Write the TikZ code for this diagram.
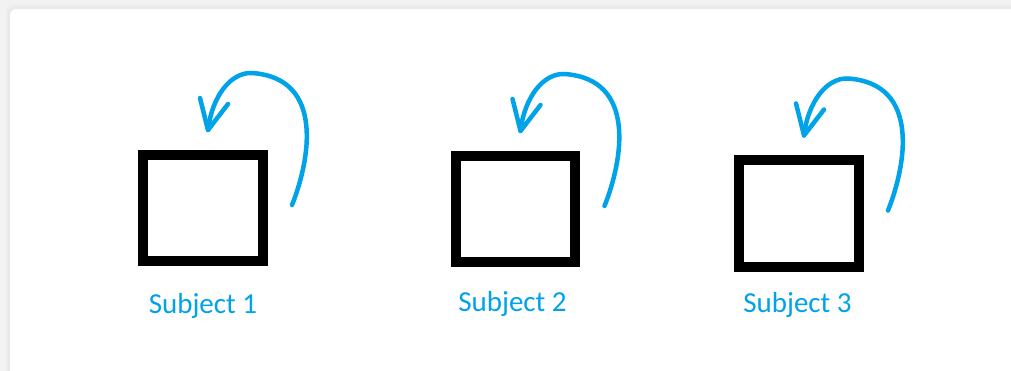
\documentclass[tikz,border=0pt]{standalone}
\usepackage{fontspec}
\setmainfont{Carlito}
\definecolor{paintblue}{RGB}{0,162,232}
\tikzset{
  subjbox/.style={draw=black, line width=10pt, minimum width=120pt, minimum height=106pt, inner sep=0pt, fill=white},
  loopline/.style={draw=paintblue, line width=4.5pt, line cap=round, line join=round},
  subjlabel/.style={text=paintblue, font=\fontsize{29}{34}\selectfont, anchor=base, inner sep=0pt},
  selfloop/.pic={
    \coordinate (-tail) at (89,-3);
    \coordinate (-tip) at (5,-78);
    \coordinate (-top) at (49,-135);
    \coordinate (-b1) at (-3,-110);
    \coordinate (-b2) at (25,-104);
    \draw[loopline] (-tail) .. controls (107,-48) and (122,-130) .. (-top)
      .. controls (28,-136) and (9,-112) .. (-tip);
    \draw[loopline] (-b1) -- (-tip) -- (-b2);
  }
}
\begin{document}
\begin{tikzpicture}[x=1pt,y=-1pt]
\useasboundingbox (0,0) rectangle (1011,371);
% background and card
\fill[black!5] (0,0) rectangle (1011,371);
\fill[black!7, rounded corners=8pt] (6,5) rectangle (1040,400);
\fill[black!9, rounded corners=7pt] (8,7) rectangle (1040,400);
\fill[white, rounded corners=6pt] (10,9) rectangle (1040,400);
% boxes
\node[subjbox] (s1) at (203,208) {};
\node[subjbox, minimum width=119pt] (s2) at (515.5,209) {};
\node[subjbox, minimum height=107pt] (s3) at (799,213.5) {};
% loops
\pic (l1) at (s1.center) {selfloop};
\pic (l2) at (s2.center) {selfloop};
\pic (l3) at (s3.center) {selfloop};
% labels
\node[subjlabel] (t1) at (203,313) {Subject 1};
\node[subjlabel] (t2) at (512.5,311) {Subject 2};
\node[subjlabel] (t3) at (797.5,312) {Subject 3};
\end{tikzpicture}
\end{document}
